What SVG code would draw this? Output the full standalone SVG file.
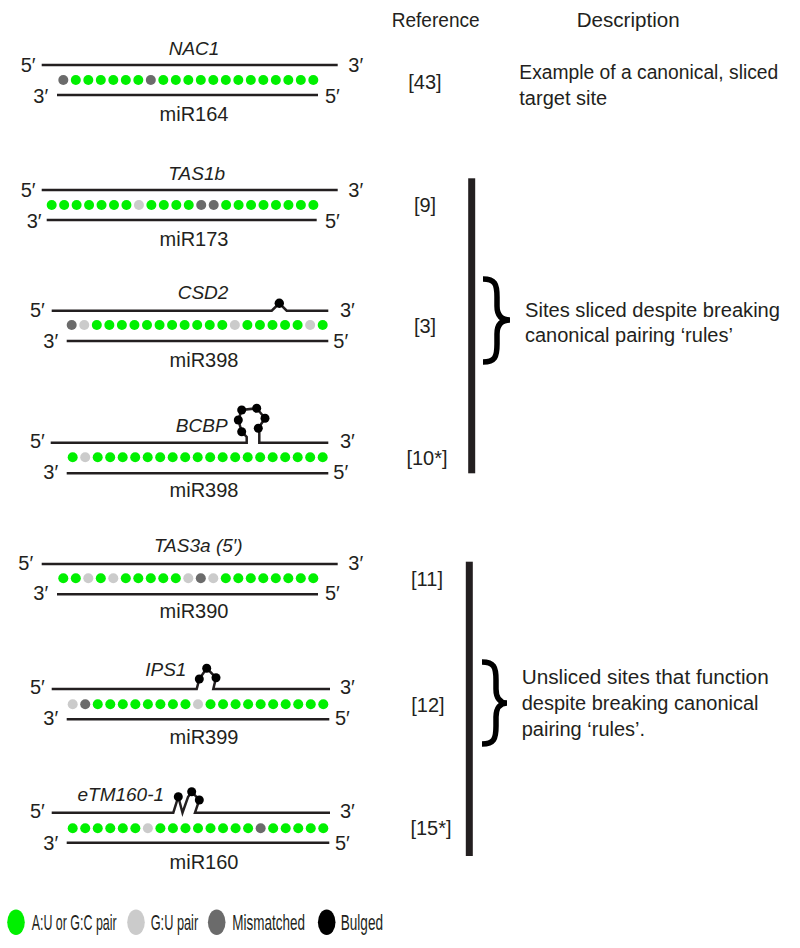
<svg xmlns="http://www.w3.org/2000/svg" width="800" height="948" viewBox="0 0 800 948">
<style>
text{font-family:"Liberation Sans",Arial,sans-serif;fill:#231f20;font-size:20px}
.it{font-style:italic;font-size:19px}
.mid{text-anchor:middle}
.ln{fill:none;stroke:#231f20;stroke-width:2.5;stroke-linejoin:miter}
.G{fill:#00f000}
.L{fill:#cbcbcb}
.D{fill:#6b6b6b}
.B{fill:#000}
.bar{fill:#231f20}
.brace{fill:none;stroke:#000;stroke-width:5.5;stroke-linecap:butt}
.lg{font-size:22px}
</style>
<defs>
<circle id="d" r="5"/>
</defs>

<g id="header">
<text x="391.7" y="27" textLength="88" lengthAdjust="spacingAndGlyphs">Reference</text>
<text x="576.7" y="27" textLength="103" lengthAdjust="spacingAndGlyphs">Description</text>
</g>

<!-- Row 1 NAC1 -->
<g id="nac1">
<text class="it mid" x="194" y="55">NAC1</text>
<text x="20.7" y="72">5′</text><text x="348.3" y="72">3′</text>
<path class="ln" d="M41.7,65H337.7"/>
<g transform="translate(63.3,80)">
<use href="#d" class="D" x="0"/><use href="#d" class="G" x="12.5"/><use href="#d" class="G" x="25"/><use href="#d" class="G" x="37.5"/><use href="#d" class="G" x="50"/><use href="#d" class="G" x="62.5"/><use href="#d" class="G" x="75"/><use href="#d" class="D" x="87.5"/><use href="#d" class="G" x="100"/><use href="#d" class="G" x="112.5"/><use href="#d" class="G" x="125"/><use href="#d" class="G" x="137.5"/><use href="#d" class="G" x="150"/><use href="#d" class="G" x="162.5"/><use href="#d" class="G" x="175"/><use href="#d" class="G" x="187.5"/><use href="#d" class="G" x="200"/><use href="#d" class="G" x="212.5"/><use href="#d" class="G" x="225"/><use href="#d" class="G" x="237.5"/><use href="#d" class="G" x="250"/>
</g>
<path class="ln" d="M57,95H318"/>
<text x="33.3" y="103">3′</text><text x="325" y="103">5′</text>
<text class="mid" x="194" y="121">miR164</text>
<text x="425" y="89" class="mid">[43]</text>
<text x="519.3" y="79" textLength="259" lengthAdjust="spacingAndGlyphs">Example of a canonical, sliced</text>
<text x="519.3" y="105">target site</text>
</g>

<!-- Row 2 TAS1b -->
<g id="tas1b">
<text class="it mid" x="196.7" y="180">TAS1b</text>
<text x="20.7" y="197">5′</text><text x="348.3" y="197">3′</text>
<path class="ln" d="M41.7,190H337.7"/>
<g transform="translate(51.7,205)">
<use href="#d" class="G" x="0"/><use href="#d" class="G" x="12.46"/><use href="#d" class="G" x="24.92"/><use href="#d" class="G" x="37.38"/><use href="#d" class="G" x="49.84"/><use href="#d" class="G" x="62.3"/><use href="#d" class="G" x="74.76"/><use href="#d" class="L" x="87.22"/><use href="#d" class="G" x="99.68"/><use href="#d" class="G" x="112.14"/><use href="#d" class="G" x="124.6"/><use href="#d" class="G" x="137.06"/><use href="#d" class="D" x="149.52"/><use href="#d" class="D" x="161.98"/><use href="#d" class="G" x="174.44"/><use href="#d" class="G" x="186.9"/><use href="#d" class="G" x="199.36"/><use href="#d" class="G" x="211.82"/><use href="#d" class="G" x="224.28"/><use href="#d" class="G" x="236.74"/><use href="#d" class="G" x="249.2"/><use href="#d" class="G" x="261.66"/>
</g>
<path class="ln" d="M46.7,220H316.7"/>
<text x="26.7" y="228">3′</text><text x="325" y="228">5′</text>
<text class="mid" x="194" y="246">miR173</text>
<text x="425" y="212" class="mid">[9]</text>
</g>

<!-- Row 3 CSD2 -->
<g id="csd2">
<text class="it mid" x="203" y="299">CSD2</text>
<text x="30" y="317">5′</text><text x="340" y="317">3′</text>
<path class="ln" d="M51.7,310.7H271.7L279.3,303.3L286.7,310.7H328.3"/>
<circle class="B" cx="279.3" cy="303.3" r="4.7"/>
<g transform="translate(71.7,325)">
<use href="#d" class="D" x="0"/><use href="#d" class="L" x="12.55"/><use href="#d" class="G" x="25.1"/><use href="#d" class="G" x="37.65"/><use href="#d" class="G" x="50.2"/><use href="#d" class="G" x="62.75"/><use href="#d" class="G" x="75.3"/><use href="#d" class="G" x="87.85"/><use href="#d" class="G" x="100.4"/><use href="#d" class="G" x="112.95"/><use href="#d" class="G" x="125.5"/><use href="#d" class="G" x="138.05"/><use href="#d" class="G" x="150.6"/><use href="#d" class="L" x="163.15"/><use href="#d" class="G" x="175.7"/><use href="#d" class="G" x="188.25"/><use href="#d" class="G" x="200.8"/><use href="#d" class="G" x="213.35"/><use href="#d" class="G" x="225.9"/><use href="#d" class="L" x="238.45"/><use href="#d" class="G" x="251"/>
</g>
<path class="ln" d="M66.7,341H328.3"/>
<text x="43.3" y="348">3′</text><text x="333.3" y="348">5′</text>
<text class="mid" x="204" y="367">miR398</text>
<text x="425" y="333" class="mid">[3]</text>
</g>

<!-- Row 4 BCBP -->
<g id="bcbp">
<text class="it mid" x="201.7" y="432">BCBP</text>
<text x="30" y="448">5′</text><text x="340" y="448">3′</text>
<path class="ln" d="M50.7,442.7H246.7L246.7,437L241.7,431.7L238.3,420L241.7,410L256.7,408.3L265,418.3L258.3,428.3L259.3,433V442.7H328.3"/>
<circle class="B" cx="241.7" cy="431.7" r="4.5"/><circle class="B" cx="238.3" cy="420" r="4.5"/><circle class="B" cx="241.7" cy="410" r="4.5"/><circle class="B" cx="256.7" cy="408.3" r="4.5"/><circle class="B" cx="265" cy="418.3" r="4.5"/><circle class="B" cx="258.3" cy="428.3" r="4.5"/>
<g transform="translate(72.7,457.3)">
<use href="#d" class="G" x="0"/><use href="#d" class="L" x="12.5"/><use href="#d" class="G" x="25"/><use href="#d" class="G" x="37.5"/><use href="#d" class="G" x="50"/><use href="#d" class="G" x="62.5"/><use href="#d" class="G" x="75"/><use href="#d" class="G" x="87.5"/><use href="#d" class="G" x="100"/><use href="#d" class="G" x="112.5"/><use href="#d" class="G" x="125"/><use href="#d" class="G" x="137.5"/><use href="#d" class="G" x="150"/><use href="#d" class="G" x="162.5"/><use href="#d" class="G" x="175"/><use href="#d" class="G" x="187.5"/><use href="#d" class="G" x="200"/><use href="#d" class="G" x="212.5"/><use href="#d" class="G" x="225"/><use href="#d" class="G" x="237.5"/><use href="#d" class="G" x="250"/>
</g>
<path class="ln" d="M66.7,473.3H328.3"/>
<text x="43.3" y="479">3′</text><text x="333.3" y="479">5′</text>
<text class="mid" x="204" y="497">miR398</text>
<text x="427" y="465" class="mid">[10*]</text>
</g>

<!-- Row 5 TAS3a -->
<g id="tas3a">
<text class="it mid" x="198.3" y="552">TAS3a (5′)</text>
<text x="18.3" y="570">5′</text><text x="348.3" y="570">3′</text>
<path class="ln" d="M41.7,564H337.7"/>
<g transform="translate(63.3,578.3)">
<use href="#d" class="G" x="0"/><use href="#d" class="G" x="12.5"/><use href="#d" class="L" x="25"/><use href="#d" class="G" x="37.5"/><use href="#d" class="L" x="50"/><use href="#d" class="G" x="62.5"/><use href="#d" class="G" x="75"/><use href="#d" class="G" x="87.5"/><use href="#d" class="G" x="100"/><use href="#d" class="G" x="112.5"/><use href="#d" class="L" x="125"/><use href="#d" class="D" x="137.5"/><use href="#d" class="L" x="150"/><use href="#d" class="G" x="162.5"/><use href="#d" class="G" x="175"/><use href="#d" class="G" x="187.5"/><use href="#d" class="G" x="200"/><use href="#d" class="G" x="212.5"/><use href="#d" class="G" x="225"/><use href="#d" class="G" x="237.5"/><use href="#d" class="G" x="250"/>
</g>
<path class="ln" d="M57,594.3H318"/>
<text x="33.3" y="600">3′</text><text x="325" y="600">5′</text>
<text class="mid" x="194" y="618">miR390</text>
<text x="427" y="586" class="mid">[11]</text>
</g>

<!-- Row 6 IPS1 -->
<g id="ips1">
<text class="it mid" x="165.8" y="676">IPS1</text>
<text x="30" y="694">5′</text><text x="340" y="694">3′</text>
<path class="ln" d="M51.7,689H196.7L199.3,679L206.7,668.3L216,677.7L213.3,689H330"/>
<circle class="B" cx="199.3" cy="679" r="4.5"/><circle class="B" cx="206.7" cy="668.3" r="4.5"/><circle class="B" cx="216" cy="677.7" r="4.5"/>
<g transform="translate(72.7,704.3)">
<use href="#d" class="L" x="0"/><use href="#d" class="D" x="12.53"/><use href="#d" class="G" x="25.06"/><use href="#d" class="G" x="37.59"/><use href="#d" class="G" x="50.12"/><use href="#d" class="G" x="62.65"/><use href="#d" class="G" x="75.18"/><use href="#d" class="G" x="87.71"/><use href="#d" class="G" x="100.24"/><use href="#d" class="G" x="112.77"/><use href="#d" class="L" x="125.3"/><use href="#d" class="G" x="137.83"/><use href="#d" class="G" x="150.36"/><use href="#d" class="G" x="162.89"/><use href="#d" class="G" x="175.42"/><use href="#d" class="G" x="187.95"/><use href="#d" class="G" x="200.48"/><use href="#d" class="G" x="213.01"/><use href="#d" class="G" x="225.54"/><use href="#d" class="G" x="238.07"/><use href="#d" class="G" x="250.6"/>
</g>
<path class="ln" d="M66.7,719.3H329.3"/>
<text x="43.3" y="725">3′</text><text x="335" y="725">5′</text>
<text class="mid" x="204" y="744">miR399</text>
<text x="428" y="712" class="mid">[12]</text>
</g>

<!-- Row 7 eTM160-1 -->
<g id="etm160">
<text class="it mid" x="120.8" y="801">eTM160-1</text>
<text x="30" y="818">5′</text><text x="340" y="818">3′</text>
<path class="ln" d="M51.7,812.7H173.3L178.3,796.7L182.5,812.7L188,797L191.7,791.7L199.3,800L195,812.7H330"/>
<circle class="B" cx="178.3" cy="796.7" r="4.5"/><circle class="B" cx="191.7" cy="791.7" r="4.5"/><circle class="B" cx="199.3" cy="800" r="4.5"/>
<g transform="translate(72.7,828.3)">
<use href="#d" class="G" x="0"/><use href="#d" class="G" x="12.53"/><use href="#d" class="G" x="25.06"/><use href="#d" class="G" x="37.59"/><use href="#d" class="G" x="50.12"/><use href="#d" class="G" x="62.65"/><use href="#d" class="L" x="75.18"/><use href="#d" class="G" x="87.71"/><use href="#d" class="G" x="100.24"/><use href="#d" class="G" x="112.77"/><use href="#d" class="G" x="125.3"/><use href="#d" class="G" x="137.83"/><use href="#d" class="G" x="150.36"/><use href="#d" class="G" x="162.89"/><use href="#d" class="G" x="175.42"/><use href="#d" class="D" x="187.95"/><use href="#d" class="G" x="200.48"/><use href="#d" class="G" x="213.01"/><use href="#d" class="G" x="225.54"/><use href="#d" class="G" x="238.07"/><use href="#d" class="G" x="250.6"/>
</g>
<path class="ln" d="M66.7,842.7H329.3"/>
<text x="43.3" y="850">3′</text><text x="335" y="850">5′</text>
<text class="mid" x="204" y="869">miR160</text>
<text x="431" y="835" class="mid">[15*]</text>
</g>

<!-- Group brackets -->
<g id="group-sliced">
<rect class="bar" x="468.2" y="178.3" width="7" height="295"/>
<path class="brace" d="M483,279C495,279 497,284 497,297L497,306C497,315 501,320 510,320C501,320 497,325 497,334L497,344C497,357 495,362 483,362"/>
<text x="525" y="317" textLength="255" lengthAdjust="spacingAndGlyphs">Sites sliced despite breaking</text>
<text x="525" y="342">canonical pairing ‘rules’</text>
</g>

<g id="group-unsliced">
<rect class="bar" x="465.8" y="561.7" width="7" height="294.3"/>
<path class="brace" d="M482,662C494,662 496,667 496,680L496,689C496,698 500,703 507,703C500,703 496,708 496,717L496,726C496,739 494,744 482,744"/>
<text x="521.7" y="684" textLength="247" lengthAdjust="spacingAndGlyphs">Unsliced sites that function</text>
<text x="521.7" y="710">despite breaking canonical</text>
<text x="521.7" y="736">pairing ‘rules’.</text>
</g>

<!-- Legend -->
<g id="legend">
<ellipse class="G" cx="16" cy="922.3" rx="8.8" ry="12.8"/>
<text class="lg" transform="translate(31.7,929.5) scale(0.565,1)">A:U or G:C pair</text>
<ellipse class="L" cx="136" cy="922.3" rx="8.8" ry="12.8"/>
<text class="lg" transform="translate(150.7,929.5) scale(0.58,1)">G:U pair</text>
<ellipse class="D" cx="216.7" cy="922.3" rx="8.8" ry="12.8"/>
<text class="lg" transform="translate(232.3,929.5) scale(0.613,1)">Mismatched</text>
<ellipse class="B" cx="326.7" cy="922.3" rx="8.8" ry="12.8"/>
<text class="lg" transform="translate(340.7,929.5) scale(0.618,1)">Bulged</text>
</g>
</svg>
